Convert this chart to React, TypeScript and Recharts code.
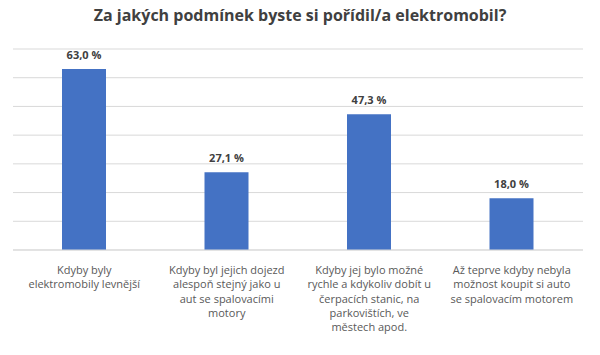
import { BarChart, Bar, XAxis, YAxis, CartesianGrid, LabelList } from 'recharts';

const categories = [
  "Kdyby byly\nelektromobily levnější",
  "Kdyby byl jejich dojezd\nalespoň stejný jako u\naut se spalovacími\nmotory",
  "Kdyby jej bylo možné\nrychle a kdykoliv dobít u\nčerpacích stanic, na\nparkovištích, ve\nměstech apod.",
  "Až teprve kdyby nebyla\nmožnost koupit si auto\nse spalovacím motorem",
];
const values = [63.0, 27.1, 47.3, 18.0];
const yTicks = [0, 10, 20, 30, 40, 50, 60, 70];

const data = categories.map((name, i) => ({ name, value: values[i] }));

const FONT = "'Open Sans', sans-serif";

const CategoryTick = (props: any) => {
  const { x, y, payload } = props;
  const lines = String(payload.value).split("\n");
  return (
    <text x={x} y={y + 16} textAnchor="middle" fill="#595959" fontSize={11} fontFamily={FONT}>
      {lines.map((line, i) => (
        <tspan key={i} x={x} dy={i === 0 ? 0 : 14.3}>{line}</tspan>
      ))}
    </text>
  );
};

const fmt = (v: any) => Number(v).toFixed(1).replace('.', ',') + ' %';

const ValueLabel = (props: any) => {
  const { x, y, width, value } = props;
  return (
    <text
      x={Number(x) + Number(width) / 2}
      y={Number(y) - 10}
      textAnchor="middle"
      fill="#404040"
      fontSize={11}
      fontWeight={700}
      fontFamily={FONT}
    >
      {fmt(value)}
    </text>
  );
};

export default function App() {
  return (
    <div style={{ position: 'absolute', left: 0, top: 0, width: 600, height: 355, background: '#fff' }}>
      <div
        style={{
          position: 'absolute', left: 0, top: 4, width: 600, textAlign: 'center',
          fontFamily: FONT, fontWeight: 700, fontSize: 16, color: '#404040',
        }}
      >
        Za jakých podmínek byste si pořídil/a elektromobil?
      </div>
      <BarChart
        width={600}
        height={355}
        data={data}
        margin={{ top: 49, right: 17, bottom: 0, left: 13 }}
      >
        <CartesianGrid horizontal vertical={false} stroke="#d9d9d9" />
        <XAxis
          dataKey="name"
          height={105}
          axisLine={{ stroke: '#d9d9d9' }}
          tickLine={false}
          interval={0}
          tick={<CategoryTick />}
        />
        <YAxis hide domain={[0, 70]} ticks={yTicks} />
        <Bar dataKey="value" fill="#4472C4" barSize={44} isAnimationActive={false}>
          <LabelList dataKey="value" content={<ValueLabel />} />
        </Bar>
      </BarChart>
    </div>
  );
}
